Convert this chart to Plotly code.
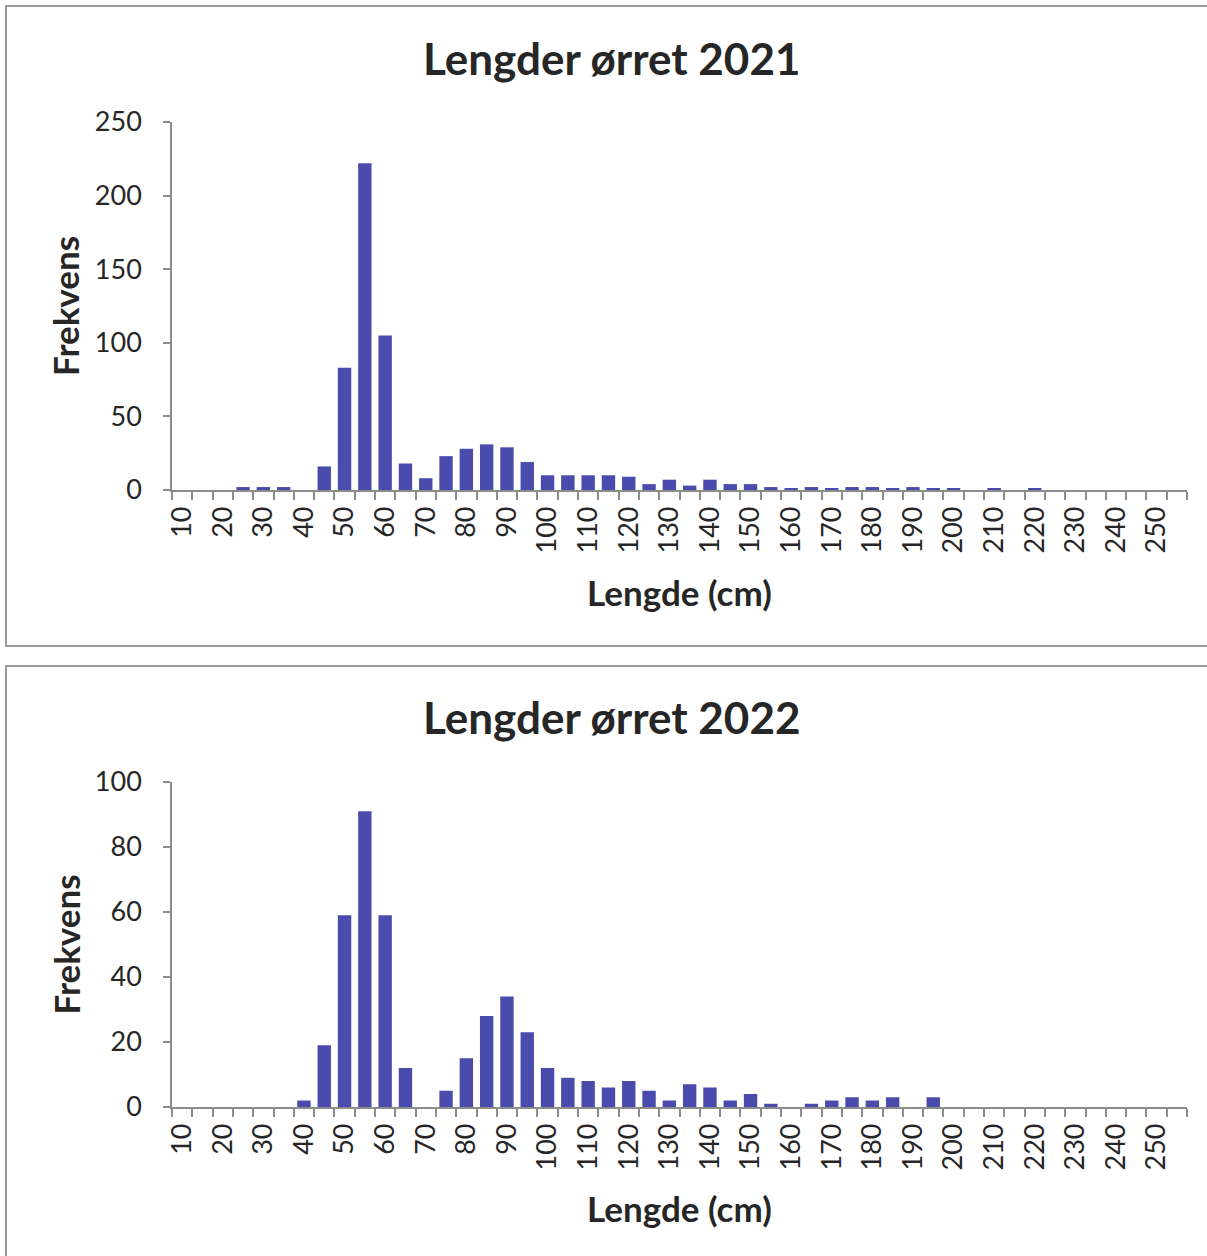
import plotly.graph_objects as go

# Length classes (cm), 5 cm bins
lengths = [str(v) for v in range(10, 260, 5)]

# Counts per length class
counts_2021 = [0, 0, 0, 2, 2, 2, 0, 16, 83, 222, 105, 18, 8, 23, 28, 31, 29, 19,
               10, 10, 10, 10, 9, 4, 7, 3, 7, 4, 4, 2, 1, 2, 1, 2, 2, 1, 2, 1,
               1, 0, 1, 0, 1, 0, 0, 0, 0, 0, 0, 0]
counts_2022 = [0, 0, 0, 0, 0, 0, 2, 19, 59, 91, 59, 12, 0, 5, 15, 28, 34, 23,
               12, 9, 8, 6, 8, 5, 2, 7, 6, 2, 4, 1, 0, 1, 2, 3, 2, 3, 0, 3,
               0, 0, 0, 0, 0, 0, 0, 0, 0, 0, 0, 0]

titles = ["Lengder ørret 2021", "Lengder ørret 2022"]
y_ranges = [(0, 250, 50), (0, 100, 20)]

W, H = 1207, 1256
FONT = "Lato"
BAR = "#4a4cad"
AXIS = "#8c8c8c"
TEXT = "#262626"

# only every other class gets a label
tick_text = [s if (int(s) // 5) % 2 == 0 else "" for s in lengths]


def px_x(p):
    return p / W


def px_y(p):
    return 1 - p / H


fig = go.Figure()

panels = [
    dict(top=6, bottom=646, plot_top=122, plot_bottom=490, title_y=58, xt_y=592),
    dict(top=666, bottom=1262, plot_top=782, plot_bottom=1107, title_y=717, xt_y=1208),
]

for i, (counts, title, yr, pan) in enumerate(zip([counts_2021, counts_2022], titles, y_ranges, panels)):
    n = "" if i == 0 else str(i + 1)
    fig.add_trace(go.Bar(
        x=lengths, y=counts, xaxis="x" + n, yaxis="y" + n,
        marker=dict(color=BAR, line=dict(width=0)),
        showlegend=False,
    ))
    fig.update_layout(**{
        "xaxis" + n: dict(
            domain=[px_x(172), px_x(1187)], anchor="y" + n, automargin=False,
            type="category", tickmode="array", tickvals=lengths, ticktext=tick_text,
            tickson="boundaries", ticks="outside", ticklen=8, tickwidth=1.5, tickcolor=AXIS,
            showline=True, linecolor=AXIS, linewidth=1.5, showgrid=False,
            tickangle=-90, tickfont=dict(family=FONT, size=27, color=TEXT),
            ticklabelstandoff=4,
            range=[-0.5, len(lengths) - 0.5],
        ),
        "yaxis" + n: dict(
            domain=[px_y(pan["plot_bottom"]), px_y(pan["plot_top"])], anchor="x" + n,
            automargin=False,
            range=[yr[0], yr[1]], dtick=yr[2], tick0=0,
            ticks="outside", ticklen=7, tickwidth=1.5, tickcolor=AXIS,
            showline=True, linecolor=AXIS, linewidth=1.5, showgrid=False, zeroline=False,
            tickfont=dict(family=FONT, size=27, color=TEXT),
            ticklabelstandoff=16,
        ),
    })
    # panel frame
    fig.add_shape(type="rect", xref="paper", yref="paper",
                  x0=px_x(6), x1=px_x(1214), y0=px_y(pan["bottom"]), y1=px_y(pan["top"]),
                  line=dict(color="#9a9a9a", width=2), fillcolor="rgba(0,0,0,0)")
    # chart title
    fig.add_annotation(text="<b>" + title + "</b>", xref="paper", yref="paper",
                       x=px_x(611), y=px_y(pan["title_y"]), showarrow=False,
                       xanchor="center", yanchor="middle",
                       font=dict(family=FONT, size=44, color=TEXT))
    # axis titles
    fig.add_annotation(text="<b>Lengde (cm)</b>", xref="paper", yref="paper",
                       x=px_x(679), y=px_y(pan["xt_y"]), showarrow=False,
                       xanchor="center", yanchor="middle",
                       font=dict(family=FONT, size=35, color=TEXT))
    fig.add_annotation(text="<b>Frekvens</b>", xref="paper", yref="paper",
                       x=px_x(65), y=px_y((pan["plot_top"] + pan["plot_bottom"]) / 2),
                       showarrow=False, textangle=-90,
                       xanchor="center", yanchor="middle",
                       font=dict(family=FONT, size=35, color=TEXT))

fig.update_layout(
    width=W, height=H, margin=dict(l=0, r=0, t=0, b=0, autoexpand=False),
    paper_bgcolor="white", plot_bgcolor="white",
    bargap=0.34,
)

fig.write_html("out.html")
